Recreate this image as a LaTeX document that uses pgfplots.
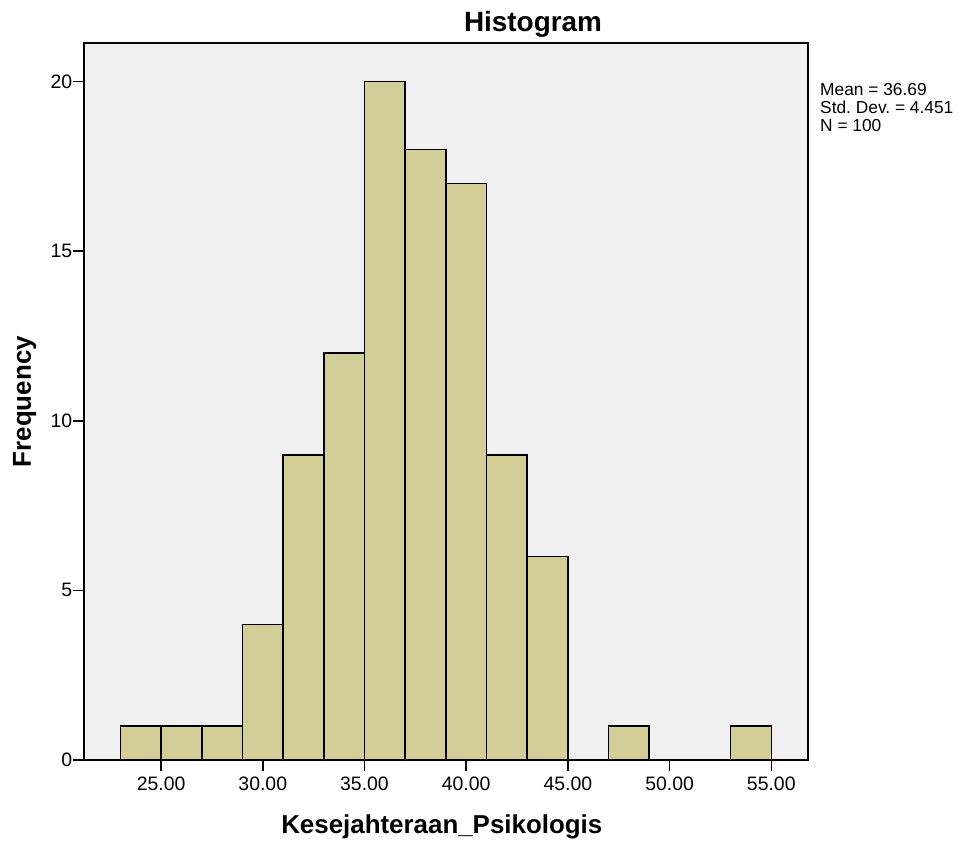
\documentclass[border=0pt]{standalone}
\usepackage{fontspec}
\setmainfont{Liberation Sans}
\usepackage{pgfplots}
\pgfplotsset{compat=1.18}

\definecolor{spssbg}{RGB}{240,240,240}
\definecolor{spssbar}{RGB}{211,206,151}

\begin{document}
\frenchspacing
\begin{tikzpicture}
\useasboundingbox (-84bp,-86bp) rectangle (888bp,760bp);
\begin{axis}[
  scale only axis,
  width=723.7bp, height=716.7bp,
  xmin=21.21, xmax=56.79,
  ymin=0, ymax=21.13,
  axis background/.style={fill=spssbg},
  axis line style={black, line width=1.6bp},
  tick pos=left,
  tick align=outside,
  major tick length=11bp,
  tick style={black, line width=1.6bp},
  xtick={25,30,35,40,45,50,55},
  ytick={0,5,10,15,20},
  /pgf/number format/assume math mode=true,
  xticklabel={\pgfmathprintnumber[fixed,fixed zerofill,precision=2]{\tick}},
  ticklabel style={font=\fontsize{19.5}{22}\selectfont},
  yticklabel style={inner sep=0.5bp},
  xticklabel style={inner sep=1bp, yshift=-5bp},
  xlabel={\textbf{Kesejahteraan\_Psikologis}},
  ylabel={\textbf{Frequency}},
  label style={font=\fontsize{26}{29}\selectfont},
  xlabel style={at={(axis cs:38.8,0)}, anchor=base, yshift=-73.3bp},
  ylabel style={at={(rel axis cs:0,0.5)}, anchor=base, yshift=53bp},
  clip=false,
]
\addplot[ybar, bar width=2, bar shift=0pt, fill=spssbar, draw=black, line width=1.6bp]
  coordinates {
    (24,1) (26,1) (28,1) (30,4) (32,9) (34,12) (36,20)
    (38,18) (40,17) (42,9) (44,6) (48,1) (54,1)
  };
\end{axis}
\node[anchor=base, font=\fontsize{28}{31}\selectfont\bfseries, inner sep=0pt] at (449bp,728.3bp) {Histogram};
% base anchor of a multi-line node sits on the last line
\node[anchor=base west, align=left, inner sep=0pt, font=\fontsize{17.4}{18.2}\selectfont] at (736bp,628.3bp)
  {Mean = 36.69\\Std. Dev. = 4.451\\N = 100};
\end{tikzpicture}
\end{document}
